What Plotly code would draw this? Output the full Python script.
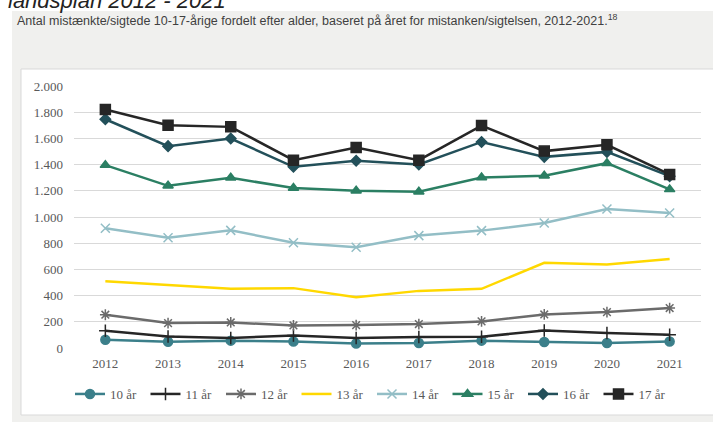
import plotly.graph_objects as go

years = [2012, 2013, 2014, 2015, 2016, 2017, 2018, 2019, 2020, 2021]
series_names = ["10 år", "11 år", "12 år", "13 år", "14 år", "15 år", "16 år", "17 år"]
v10 = [63, 48, 56, 50, 35, 38, 56, 46, 38, 50]
v11 = [132, 88, 76, 96, 76, 84, 86, 134, 114, 101]
v12 = [254, 190, 195, 172, 175, 183, 203, 256, 274, 305]
v13 = [510, 480, 452, 457, 388, 436, 452, 650, 637, 680]
v14 = [914, 842, 898, 804, 769, 858, 896, 954, 1061, 1030]
v15 = [1396, 1238, 1299, 1221, 1200, 1193, 1302, 1315, 1411, 1211]
v16 = [1746, 1541, 1599, 1383, 1429, 1401, 1573, 1459, 1497, 1312]
v17 = [1820, 1700, 1688, 1434, 1531, 1434, 1698, 1503, 1551, 1325]
values = [v10, v11, v12, v13, v14, v15, v16, v17]
y_ticks = [0, 200, 400, 600, 800, 1000, 1200, 1400, 1600, 1800, 2000]

colors = ["#3b7f8a", "#262626", "#6b6b6b", "#ffd800", "#93bec6", "#2b7f63", "#23505a", "#262626"]
symbols = ["circle", "cross-thin-open", "asterisk-open", None, "x-thin-open", "triangle-up", "diamond", "square"]
sizes = [9, 9, 9, 0, 9, 9, 8, 10]

SERIF = "'Liberation Serif', 'Times New Roman', 'DejaVu Serif', serif"

W, H = 713, 422
ML, MR, MT, MB = 74, 12, 86, 74
PW, PH = W - ML - MR, H - MT - MB


def px(x):
    return (x - ML) / PW


def py(y):
    return (H - MB - y) / PH


fig = go.Figure()
for name, vals, c, s, sz in zip(series_names, values, colors, symbols, sizes):
    if s is None:
        fig.add_trace(go.Scatter(x=years, y=vals, name=name, mode="lines",
                                 line=dict(color=c, width=2.5), cliponaxis=False))
    else:
        fig.add_trace(go.Scatter(x=years, y=vals, name=name, mode="lines+markers",
                                 line=dict(color=c, width=2.5),
                                 marker=dict(symbol=s, size=sz, color=c,
                                             line=dict(color=c, width=1.5)),
                                 cliponaxis=False))

fig.update_layout(
    width=W, height=H,
    margin=dict(l=ML, r=MR, t=MT, b=MB, pad=0),
    paper_bgcolor="white", plot_bgcolor="rgba(0,0,0,0)",
    separators=",.",
    font=dict(family=SERIF, size=13, color="#595959"),
    showlegend=True,
    legend=dict(orientation="h", x=px(70), y=py(394), xanchor="left", yanchor="middle",
                entrywidth=30.5, entrywidthmode="pixels", itemwidth=30,
                font=dict(family=SERIF, size=13, color="#595959"),
                bgcolor="rgba(0,0,0,0)", tracegroupgap=0),
    xaxis=dict(range=[2011.5, 2021.5], tickvals=years, showgrid=False, zeroline=False,
               showline=False, ticks="", ticklabelstandoff=6,
               tickfont=dict(family=SERIF, size=13, color="#595959")),
    yaxis=dict(range=[0, 2000], tickvals=y_ticks, tickformat=",d", showgrid=True,
               gridcolor="#d9d9d9", gridwidth=1, zeroline=False, showline=False,
               ticks="", ticklabelstandoff=10,
               tickfont=dict(family=SERIF, size=13, color="#595959")),
    shapes=[
        dict(type="rect", xref="paper", yref="paper", x0=px(12), x1=px(W + 5), y0=py(H + 5), y1=py(11),
             fillcolor="#f0f0ee", line=dict(width=0), layer="below"),
        dict(type="rect", xref="paper", yref="paper", x0=px(21), x1=px(W + 5), y0=py(415), y1=py(69),
             fillcolor="white", line=dict(width=1, color="#d9d9d9"), layer="below"),
    ],
    annotations=[
        dict(text="Antal mistænkte/sigtede 10-17-årige fordelt efter alder, baseret på året for mistanken/sigtelsen, 2012-2021.<sup>18</sup>",
             xref="paper", yref="paper", x=px(15), y=py(20), xanchor="left", yanchor="middle",
             showarrow=False, font=dict(family="Liberation Sans", size=12.5, color="#404040")),
        dict(text="<i>landsplan 2012 - 2021</i>",
             xref="paper", yref="paper", x=px(6), y=py(0), xanchor="left", yanchor="middle",
             showarrow=False, font=dict(family="Liberation Sans", size=22, color="#222222")),
    ],
)

fig.write_html("out.html", config={"displayModeBar": False},
               post_script="document.body.style.margin='0';document.body.style.overflow='hidden';")
